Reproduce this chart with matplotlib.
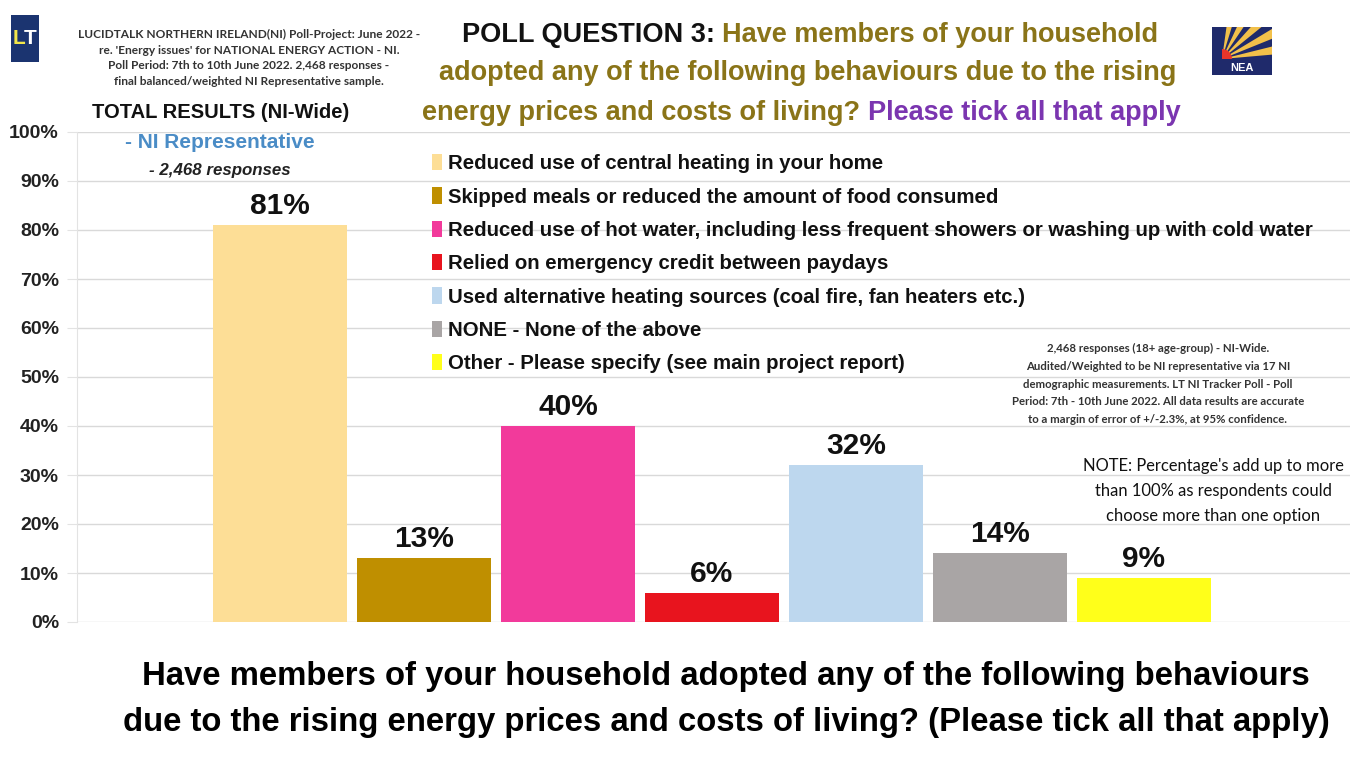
import matplotlib
matplotlib.use("Agg")
import matplotlib.pyplot as plt
from matplotlib.patches import Rectangle, Wedge
from matplotlib.ticker import FuncFormatter

categories = [
    "Reduced use of central heating in your home",
    "Skipped meals or reduced the amount of food consumed",
    "Reduced use of hot water, including less frequent showers or washing up with cold water",
    "Relied on emergency credit between paydays",
    "Used alternative heating sources (coal fire, fan heaters etc.)",
    "NONE - None of the above",
    "Other - Please specify (see main project report)",
]
values = [81, 13, 40, 6, 32, 14, 9]
colors = ["#FDDE96", "#BF8F00", "#F23A9B", "#E8141E", "#BDD7EE", "#A9A5A5", "#FFFF1A"]
yticks = [0, 10, 20, 30, 40, 50, 60, 70, 80, 90, 100]

W, H = 1355, 773
fig = plt.figure(figsize=(W / 100, H / 100), dpi=100)
fig.patch.set_facecolor("white")

def fx(px):
    return px / W

def fy(py):
    return 1 - py / H

SANS = "Liberation Sans"
SMALL = "Lato"

AX_L, AX_R, AX_T, AX_B = 77, 1350, 132, 622
ax = fig.add_axes([fx(AX_L), fy(AX_B), (AX_R - AX_L) / W, (AX_B - AX_T) / H])
x = list(range(len(values)))
bars = ax.bar(x, values, width=0.93, color=colors, zorder=3)
ax.set_xlim((AX_L - 280) / 144, (AX_R - 280) / 144)
ax.set_ylim(0, 100)
ax.set_yticks(yticks)
ax.yaxis.set_major_formatter(FuncFormatter(lambda v, p: f"{int(v)}%"))
ax.set_xticks([])
for name, s in ax.spines.items():
    s.set_visible(name == "left")
ax.spines["left"].set_color("#E3E3E3")
ax.grid(axis="y", color="#D9D9D9", linewidth=1.0, zorder=0)
ax.tick_params(axis="y", length=7, color="#E3E3E3", pad=6)
for lab in ax.get_yticklabels():
    lab.set_fontfamily(SANS)
    lab.set_fontweight("bold")
    lab.set_fontsize(14)
    lab.set_color("#222222")

for xi, v in zip(x, values):
    ax.text(xi, v + 1.0, f"{v}%", ha="center", va="bottom", fontsize=21.5,
            fontweight="bold", family=SANS, color="#111111", zorder=4)

ax_w = AX_R - AX_L
leg = ax.legend(bars, categories, loc="upper left",
                bbox_to_anchor=((424 - AX_L) / ax_w, 1 - (146 - AX_T) / 490),
                frameon=False, handlelength=0.5, handleheight=0.85, handletextpad=0.3,
                labelspacing=0.69, borderaxespad=0,
                prop={"family": SANS, "weight": "bold", "size": 14.7})
for t in leg.get_texts():
    t.set_color("#111111")

# Title
TS = 19.5
title_kw = dict(ha="left", va="center", fontsize=TS, fontweight="bold", family=SANS)
t1 = fig.text(fx(462), fy(35), "POLL QUESTION 3: ", color="#111111", **title_kw)
fig.canvas.draw()
bb = t1.get_window_extent()
fig.text(bb.x1 / W, fy(35), "Have members of your household", color="#8A7418", **title_kw)
fig.text(fx(808), fy(73), "adopted any of the following behaviours due to the rising",
         color="#8A7418", ha="center", va="center", fontsize=TS, fontweight="bold", family=SANS)
t3 = fig.text(fx(422), fy(113), "energy prices and costs of living? ", color="#8A7418", **title_kw)
fig.canvas.draw()
bb3 = t3.get_window_extent()
fig.text(bb3.x1 / W, fy(113), "Please tick all that apply", color="#7B35B0", **title_kw)

# Left header
hdr = ("LUCIDTALK NORTHERN IRELAND(NI) Poll-Project: June 2022 -\n"
       "re. 'Energy issues' for NATIONAL ENERGY ACTION - NI.\n"
       "Poll Period: 7th to 10th June 2022. 2,468 responses -\n"
       "final balanced/weighted NI Representative sample.")
fig.text(fx(249), fy(58), hdr, ha="center", va="center", fontsize=8.6, family=SMALL,
         fontweight="bold", color="#333333", linespacing=1.52)
fig.text(fx(221), fy(113), "TOTAL RESULTS (NI-Wide)", ha="center", va="center", fontsize=14.5,
         fontweight="bold", family=SANS, color="#111111")
fig.text(fx(220), fy(143), "- NI Representative", ha="center", va="center", fontsize=15,
         fontweight="bold", family=SANS, color="#4A8CC6")
fig.text(fx(220), fy(171), "- 2,468 responses", ha="center", va="center", fontsize=12.2,
         fontweight="bold", style="italic", family=SANS, color="#222222")

# Notes
note1 = ("2,468 responses (18+ age-group) - NI-Wide.\n"
         "Audited/Weighted to be NI representative via 17 NI\n"
         "demographic measurements. LT NI Tracker Poll - Poll\n"
         "Period: 7th - 10th June 2022. All data results are accurate\n"
         "to a margin of error of +/-2.3%, at 95% confidence.")
fig.text(fx(1158), fy(384), note1, ha="center", va="center", fontsize=8.2, family=SMALL,
         fontweight="bold", color="#333333", linespacing=1.75)
note2 = ("NOTE: Percentage's add up to more\n"
         "than 100% as respondents could\n"
         "choose more than one option")
fig.text(fx(1213), fy(491), note2, ha="center", va="center", fontsize=11.9, family=SMALL,
         color="#111111", linespacing=1.67)

# Bottom question
BS = 23.7
fig.text(fx(726), fy(677), "Have members of your household adopted any of the following behaviours",
         ha="center", va="center", fontsize=BS, fontweight="bold", family=SANS, color="#000000")
fig.text(fx(726), fy(722), "due to the rising energy prices and costs of living? (Please tick all that apply)",
         ha="center", va="center", fontsize=BS, fontweight="bold", family=SANS, color="#000000")

# LT logo
fig.patches.append(Rectangle((fx(11), fy(62)), fx(28), (62 - 15) / H, transform=fig.transFigure,
                             facecolor="#1B3470", edgecolor="none"))
fig.text(fx(19), fy(39), "L", ha="center", va="center", fontsize=15, fontweight="bold",
         family=SANS, color="#F2E64A")
fig.text(fx(30), fy(39), "T", ha="center", va="center", fontsize=15, fontweight="bold",
         family=SANS, color="white")

# NEA logo
logo = fig.add_axes([fx(1212), fy(75), fx(60), (75 - 27) / H])
logo.set_xlim(0, 60)
logo.set_ylim(0, 48)
logo.axis("off")
logo.add_patch(Rectangle((0, 0), 60, 48, facecolor="#1F2A6B", edgecolor="none"))
for a0 in range(5, 90, 17):
    logo.add_patch(Wedge((10, 16), 60, a0, a0 + 9, facecolor="#F2C04A", edgecolor="none"))
logo.add_patch(Wedge((10, 16), 10, 0, 90, facecolor="#E8352A", edgecolor="none"))
logo.add_patch(Rectangle((0, 0), 60, 14, facecolor="#1F2A6B", edgecolor="none"))
logo.text(30, 7, "NEA", ha="center", va="center", fontsize=8, fontweight="bold",
          family=SANS, color="white")

fig.savefig("out.png", dpi=100)
